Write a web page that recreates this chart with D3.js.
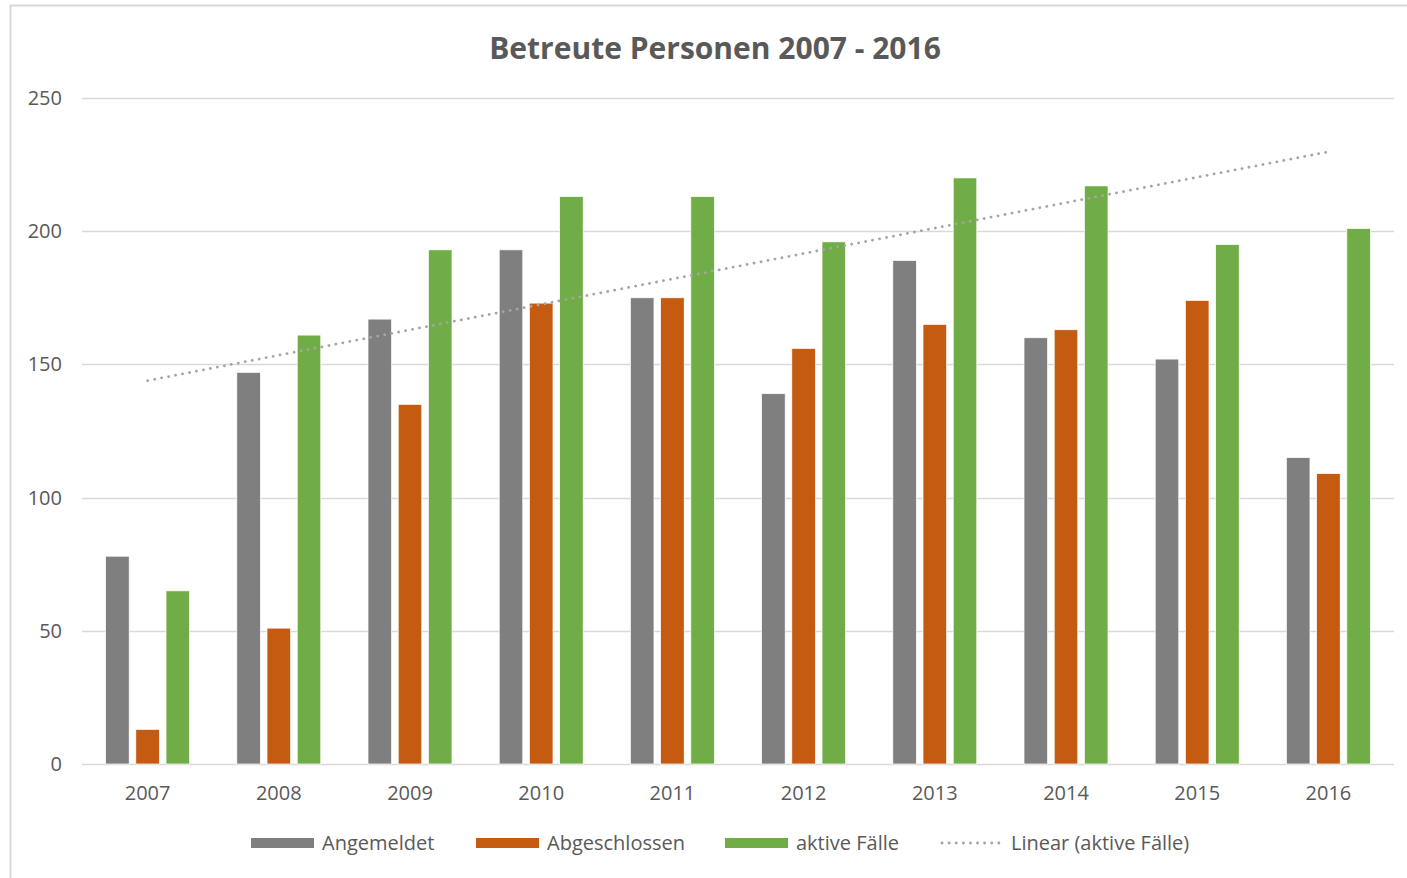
<!DOCTYPE html>
<html>
<head>
<meta charset="utf-8">
<script src="https://cdn.jsdelivr.net/npm/d3@7"></script>
<style>
  body { margin: 0; background: #fff; }
  svg { font-family: "Open Sans", "Noto Sans", sans-serif; }
</style>
</head>
<body>
<svg id="chart" width="1407" height="878"></svg>
<script>
"use strict"

// data
var years = ["2007", "2008", "2009", "2010", "2011", "2012", "2013", "2014", "2015", "2016"];
var angemeldet = [78, 147, 167, 193, 175, 139, 189, 160, 152, 115];
var abgeschlossen = [13, 51, 135, 173, 175, 156, 165, 163, 174, 109];
var aktiveFaelle = [65, 161, 193, 213, 213, 196, 220, 217, 195, 201];
var trendEnds = [143.9, 229.8];   // Linear (aktive Fälle), at 2007 and 2016
var yTicks = [0, 50, 100, 150, 200, 250];

var seriesNames = ["Angemeldet", "Abgeschlossen", "aktive Fälle"];
var seriesColors = ["#7f7f7f", "#c55a11", "#70ad47"];
var seriesValues = [angemeldet, abgeschlossen, aktiveFaelle];

var svg = d3.select("#chart");

// outer border
svg.append("rect")
    .attr("x", 10.5)
    .attr("y", 5.5)
    .attr("width", 1400)
    .attr("height", 890)
    .attr("fill", "none")
    .attr("stroke", "#d9d9d9")
    .attr("stroke-width", 2);

// title
svg.append("text")
    .attr("x", 715)
    .attr("y", 59)
    .attr("text-anchor", "middle")
    .style("font-size", "30px")
    .style("font-weight", "bold")
    .attr("fill", "#595959")
    .text("Betreute Personen 2007 - 2016");

var plotLeft = 82, plotRight = 1394, plotTop = 98, plotBottom = 764;

var x = d3.scaleBand()
    .domain(years)
    .range([plotLeft, plotRight])
    .paddingInner(0.36)
    .paddingOuter(0.18);

var x1 = d3.scaleBand()
    .domain(d3.range(3))
    .range([0, x.bandwidth()])
    .paddingInner(0.22);

var y = d3.scaleLinear()
    .domain([0, 250])
    .range([plotBottom, plotTop]);

// grid lines
svg.append("g")
    .selectAll("line")
    .data(yTicks)
    .enter()
    .append("line")
    .attr("x1", plotLeft)
    .attr("x2", plotRight)
    .attr("y1", function (d) { return Math.round(y(d)) + 0.5; })
    .attr("y2", function (d) { return Math.round(y(d)) + 0.5; })
    .attr("stroke", "#d9d9d9")
    .attr("stroke-width", 1.3);

// y labels
svg.append("g")
    .selectAll("text")
    .data(yTicks)
    .enter()
    .append("text")
    .attr("x", 62)
    .attr("y", function (d) { return y(d) + 7; })
    .attr("text-anchor", "end")
    .style("font-size", "20px")
    .attr("fill", "#595959")
    .text(function (d) { return d; });

// x labels
var xAxis = d3.axisBottom(x).tickSize(0).tickPadding(0);
var xg = svg.append("g")
    .attr("transform", "translate(0," + plotBottom + ")")
    .call(xAxis);
xg.select(".domain").remove();
xg.selectAll("text")
    .attr("y", 36)
    .attr("dy", null)
    .style("font-size", "20px")
    .style("font-family", "\"Open Sans\", sans-serif")
    .attr("fill", "#595959");

// bars
var groups = svg.append("g")
    .selectAll("g")
    .data(years)
    .enter()
    .append("g")
    .attr("transform", function (d) { return "translate(" + x(d) + ",0)"; });

groups.selectAll("rect")
    .data(function (d, i) {
        return seriesValues.map(function (vals, s) {
            return { s: s, value: vals[i] };
        });
    })
    .enter()
    .append("rect")
    .attr("x", function (d) { return x1(d.s); })
    .attr("width", x1.bandwidth())
    .attr("y", function (d) { return y(d.value); })
    .attr("height", function (d) { return plotBottom - y(d.value); })
    .attr("fill", function (d) { return seriesColors[d.s]; })
    .attr("stroke", "#fff")
    .attr("stroke-width", 0.7);

// trend line
var half = x.bandwidth() / 2;
svg.append("line")
    .attr("x1", x(years[0]) + half)
    .attr("x2", x(years[years.length - 1]) + half)
    .attr("y1", y(trendEnds[0]))
    .attr("y2", y(trendEnds[1]))
    .attr("stroke", "#a5a5a5")
    .attr("stroke-width", 2.8)
    .attr("stroke-linecap", "round")
    .attr("stroke-dasharray", "0.1 7");

// legend
var legendItems = [
    { name: seriesNames[0], color: seriesColors[0], x: 251 },
    { name: seriesNames[1], color: seriesColors[1], x: 476 },
    { name: seriesNames[2], color: seriesColors[2], x: 725 },
    { name: "Linear (aktive Fälle)", color: "#a5a5a5", x: 940, dotted: true }
];
var legend = svg.append("g")
    .attr("transform", "translate(0,843)");

legend.selectAll("rect")
    .data(legendItems.filter(function (d) { return !d.dotted; }))
    .enter()
    .append("rect")
    .attr("x", function (d) { return d.x; })
    .attr("y", -5)
    .attr("width", 63)
    .attr("height", 10)
    .attr("fill", function (d) { return d.color; });

legend.selectAll("line")
    .data(legendItems.filter(function (d) { return d.dotted; }))
    .enter()
    .append("line")
    .attr("x1", function (d) { return d.x + 2; })
    .attr("x2", function (d) { return d.x + 63; })
    .attr("y1", 0)
    .attr("y2", 0)
    .attr("stroke", function (d) { return d.color; })
    .attr("stroke-width", 2.8)
    .attr("stroke-linecap", "round")
    .attr("stroke-dasharray", "0.1 7");

legend.selectAll("text")
    .data(legendItems)
    .enter()
    .append("text")
    .attr("x", function (d) { return d.x + 71; })
    .attr("y", 7)
    .style("font-size", "20px")
    .attr("fill", "#595959")
    .text(function (d) { return d.name; });
</script>
</body>
</html>
